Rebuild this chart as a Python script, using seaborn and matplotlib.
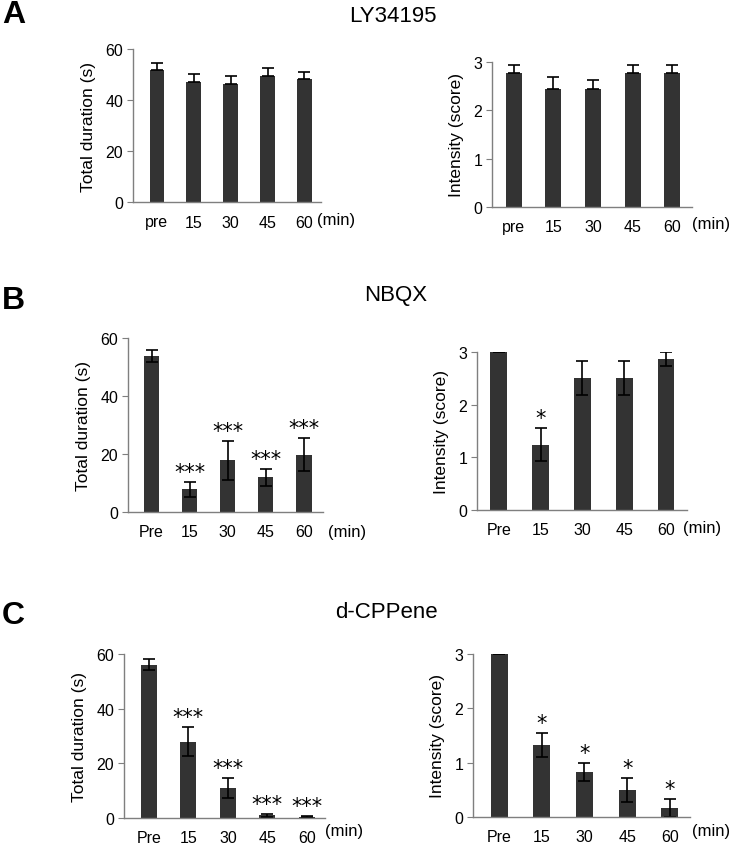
import numpy as np
import matplotlib
matplotlib.use('Agg')
import matplotlib.pyplot as plt
import seaborn as sns

sns.set_style('white')
plt.rcParams['font.family'] = ['Liberation Sans', 'DejaVu Sans']
plt.rcParams['text.color'] = 'black'
plt.rcParams['axes.labelcolor'] = 'black'
plt.rcParams['xtick.color'] = 'black'
plt.rcParams['ytick.color'] = 'black'

# values
times_a = ['pre', '15', '30', '45', '60']
times_bc = ['Pre', '15', '30', '45', '60']

ly_dur = [51.9, 47.2, 46.2, 49.4, 48.4]
ly_dur_err = [2.6, 3.0, 3.3, 3.3, 2.7]
ly_int = [2.78, 2.45, 2.45, 2.78, 2.78]
ly_int_err = [0.15, 0.24, 0.18, 0.15, 0.15]

nbqx_dur = [53.8, 7.8, 17.8, 11.9, 19.8]
nbqx_dur_err = [2.2, 2.6, 6.7, 2.9, 5.6]
nbqx_dur_sig = ['', '***', '***', '***', '***']
nbqx_int = [3.0, 1.24, 2.5, 2.5, 2.87]
nbqx_int_err = [0.0, 0.31, 0.32, 0.32, 0.13]
nbqx_int_sig = ['', '*', '', '', '']

cpp_dur = [56.1, 27.9, 11.0, 1.0, 0.4]
cpp_dur_err = [1.9, 5.3, 3.5, 0.6, 0.2]
cpp_dur_sig = ['', '***', '***', '***', '***']
cpp_int = [3.0, 1.33, 0.83, 0.5, 0.17]
cpp_int_err = [0.0, 0.22, 0.17, 0.22, 0.17]
cpp_int_sig = ['', '*', '*', '*', '*']

W, H = 734, 853
fig = plt.figure(figsize=(W / 100, H / 100), dpi=100)


def px_axes(x0, x1, ytop, ybot):
    return fig.add_axes([x0 / W, 1 - ybot / H, (x1 - x0) / W, (ybot - ytop) / H])


def panel(ax, cats, vals, errs, sig, ymax, yticks, ylabel, xlim, upper_only, min_xy):
    sns.barplot(x=cats, y=vals, ax=ax, color='#333333', width=0.4,
                saturation=1, errorbar=None, edgecolor='none')
    xs = np.arange(len(cats))
    if upper_only:
        yerr = [np.zeros(len(errs)), errs]
    else:
        yerr = errs
    ax.errorbar(xs, vals, yerr=yerr, fmt='none', ecolor='black',
                elinewidth=1.2, capsize=4, capthick=1.2)
    for x, v, e, s in zip(xs, vals, errs, sig):
        if s:
            ax.text(x, v + e, s, ha='center', va='bottom',
                    fontsize=15, family='DejaVu Sans')
    ax.set_ylim(0, ymax)
    ax.set_xlim(*xlim)
    ax.set_yticks(yticks)
    ax.set_ylabel(ylabel, fontsize=12.5, labelpad=7)
    for side in ['top', 'right']:
        ax.spines[side].set_visible(False)
    for side in ['left', 'bottom']:
        ax.spines[side].set_color('#7f7f7f')
        ax.spines[side].set_linewidth(1.0)
    ax.tick_params(axis='y', length=4, color='#7f7f7f', labelsize=11.5, pad=3, left=True)
    ax.tick_params(axis='x', length=0, labelsize=11.5, pad=9)
    fig.text(min_xy[0] / W, 1 - min_xy[1] / H, '(min)', ha='left', va='center', fontsize=12)


dur_ticks = [0, 20, 40, 60]
int_ticks = [0, 1, 2, 3]
dur_lab = 'Total duration (s)'
int_lab = 'Intensity (score)'

ax = px_axes(133, 321, 50, 203)
panel(ax, times_a, ly_dur, ly_dur_err, [''] * 5, 60, dur_ticks, dur_lab, (-0.65, 4.45), True, (317, 220))
ax = px_axes(492, 692, 63, 208)
panel(ax, times_a, ly_int, ly_int_err, [''] * 5, 3, int_ticks, int_lab, (-0.55, 4.5), True, (692, 225))

ax = px_axes(128, 323, 339, 513)
panel(ax, times_bc, nbqx_dur, nbqx_dur_err, nbqx_dur_sig, 60, dur_ticks, dur_lab, (-0.62, 4.5), False, (328, 532))
ax = px_axes(477, 687, 353, 511)
panel(ax, times_bc, nbqx_int, nbqx_int_err, nbqx_int_sig, 3, int_ticks, int_lab, (-0.52, 4.5), False, (683, 529))

ax = px_axes(124, 325, 655, 819)
panel(ax, times_bc, cpp_dur, cpp_dur_err, cpp_dur_sig, 60, dur_ticks, dur_lab, (-0.63, 4.46), False, (325, 832))
ax = px_axes(473, 690, 655, 818)
panel(ax, times_bc, cpp_int, cpp_int_err, cpp_int_sig, 3, int_ticks, int_lab, (-0.61, 4.47), False, (692, 832))

# panel letters and titles
for letter, y in [('A', 15), ('B', 301), ('C', 616)]:
    fig.text(2 / W, 1 - y / H, letter, fontsize=23, fontweight='bold', va='center', ha='left')
for title, x, y in [('LY34195', 393, 16), ('NBQX', 396, 296), ('d-CPPene', 386, 613)]:
    fig.text(x / W, 1 - y / H, title, fontsize=16, va='center', ha='center')

fig.savefig('out.png', dpi=100, facecolor='white')
